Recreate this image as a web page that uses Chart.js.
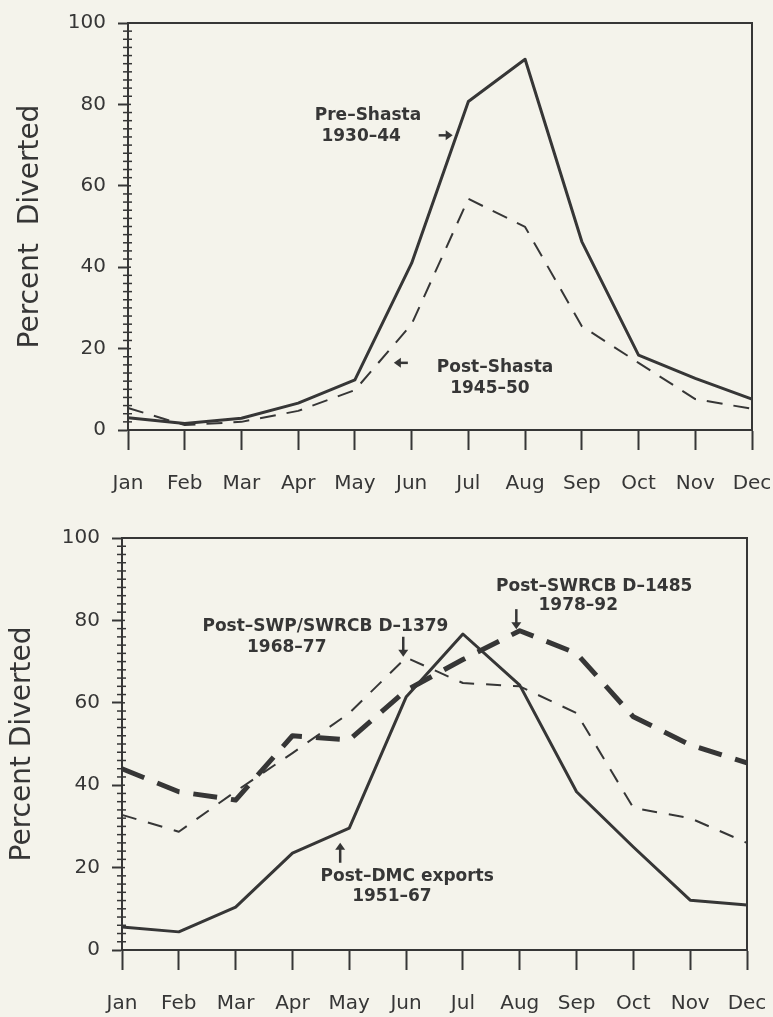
<!DOCTYPE html>
<html>
<head>
<meta charset="utf-8">
<script src="https://cdn.jsdelivr.net/npm/chart.js@4.4.1/dist/chart.umd.min.js"></script>
<style>
  body { margin: 0; background: #f4f3eb; }
  .panel { position: absolute; left: 0; width: 773px; }
  #panelTop { top: 0; height: 510px; }
  #panelBottom { top: 510px; height: 507px; }
</style>
</head>
<body>
<div class="panel" id="panelTop"><canvas id="chartTop" width="773" height="510"></canvas></div>
<div class="panel" id="panelBottom"><canvas id="chartBottom" width="773" height="507"></canvas></div>
<script>
// Data
const months = ['Jan', 'Feb', 'Mar', 'Apr', 'May', 'Jun', 'Jul', 'Aug', 'Sep', 'Oct', 'Nov', 'Dec'];
const yTicks = [0, 20, 40, 60, 80, 100];

// top panel
const preShasta  = [3.0, 1.6, 2.9, 6.6, 12.3, 41, 80.7, 91.1, 46.3, 18.4, 12.7, 7.6];
const postShasta = [5.4, 1.2, 2.0, 4.7, 9.8, 26, 56.8, 49.9, 25.5, 16.5, 7.6, 5.2];

// bottom panel
const postDMC    = [5.6, 4.4, 10.4, 23.5, 29.6, 61.4, 76.7, 64.3, 38.4, 25, 12.1, 10.9];
const postSWP    = [32.8, 28.7, 38.5, 47.8, 57.5, 71, 64.8, 64, 57.5, 34.5, 32, 26];
const postD1485  = [44, 38.4, 36.4, 52, 51, 63, 70.5, 77.5, 72, 56.6, 49.8, 45.4];

// labels placed in data units (month index, percent)
const topNotes = [
    { text: 'Pre\u2013Shasta', x: 4.23, y: 77.3 },
    { text: '1930\u201344', x: 4.11, y: 72.2 },
    { arrow: 'right', x: 5.6, y: 72.4 },
    { text: 'Post\u2013Shasta', x: 6.47, y: 15.3 },
    { text: '1945\u201350', x: 6.38, y: 10.3 },
    { arrow: 'left', x: 4.81, y: 16.5 }
];
const bottomNotes = [
    { text: 'Post\u2013SWP/SWRCB D\u20131379', x: 3.58, y: 78.4 },
    { text: '1968\u201377', x: 2.9, y: 73.5 },
    { arrow: 'down', x: 4.95, y: 73.6 },
    { text: 'Post\u2013SWRCB D\u20131485', x: 8.31, y: 88.3 },
    { text: '1978\u201392', x: 8.03, y: 83.5 },
    { arrow: 'down', x: 6.94, y: 80.3 },
    { text: 'Post\u2013DMC exports', x: 5.02, y: 17.7 },
    { text: '1951\u201367', x: 4.75, y: 12.9 },
    { arrow: 'up', x: 3.84, y: 23.6 }
];

const INK = '#363636';
Chart.defaults.font.family = '"DejaVu Sans", sans-serif';
Chart.defaults.color = INK;

function drawArrow(ctx, cx, cy, dir) {
    const len = (dir === 'up' || dir === 'down') ? 20 : 14;
    const dx = dir === 'right' ? 1 : dir === 'left' ? -1 : 0;
    const dy = dir === 'down' ? 1 : dir === 'up' ? -1 : 0;
    const tx = cx + dx * len / 2, ty = cy + dy * len / 2;
    ctx.lineWidth = 2.5;
    ctx.beginPath();
    ctx.moveTo(cx - dx * len / 2, cy - dy * len / 2);
    ctx.lineTo(tx - dx * 3, ty - dy * 3);
    ctx.stroke();
    // head
    const h = 7, w = 5;
    ctx.beginPath();
    ctx.moveTo(tx, ty);
    ctx.lineTo(tx - dx * h - dy * w, ty - dy * h - dx * w);
    ctx.lineTo(tx - dx * h + dy * w, ty - dy * h + dx * w);
    ctx.closePath();
    ctx.fill();
}

// box border, minor y ticks and text labels
function framePlugin(notes) {
    return {
        id: 'frame',
        afterDraw(chart) {
            const { ctx, chartArea: a, scales: { x, y } } = chart;
            ctx.save();
            ctx.strokeStyle = INK;
            ctx.lineWidth = 2;
            ctx.beginPath();
            ctx.moveTo(a.left, a.top);
            ctx.lineTo(a.right, a.top);
            ctx.lineTo(a.right, a.bottom);
            ctx.stroke();

            ctx.lineWidth = 1.5;
            for (let v = 0; v <= 100; v += 2) {
                const py = y.getPixelForValue(v);
                const major = v % 20 === 0;
                ctx.beginPath();
                ctx.moveTo(major ? a.left : a.left - 5, py);
                ctx.lineTo(a.left + (major ? 3 : 4), py);
                ctx.stroke();
            }

            ctx.fillStyle = INK;
            ctx.textAlign = 'center';
            ctx.textBaseline = 'middle';
            ctx.font = 'bold 17px "DejaVu Sans"';
            notes.forEach(n => {
                const px = x.getPixelForValue(n.x), py = y.getPixelForValue(n.y);
                if (n.arrow) drawArrow(ctx, px, py, n.arrow);
                else ctx.fillText(n.text, px, py);
            });
            ctx.restore();
        }
    };
}

function makeChart(id, box, datasets, notes, title, titlePad) {
    const canvas = document.getElementById(id);
    const W = canvas.width, H = canvas.height;
    return new Chart(canvas.getContext('2d'), {
        type: 'line',
        data: { labels: months, datasets: datasets },
        options: {
            responsive: false,
            animation: false,
            events: [],
            layout: { padding: { left: 0, top: box.top, right: W - box.right, bottom: 0 } },
            elements: { point: { radius: 0 }, line: { tension: 0, borderJoinStyle: 'round', fill: false } },
            plugins: { legend: { display: false }, tooltip: { enabled: false } },
            scales: {
                x: {
                    offset: false,
                    grid: { drawOnChartArea: false, tickLength: 20, tickWidth: 2, tickColor: INK },
                    border: { color: INK, width: 2 },
                    ticks: { color: INK, font: { size: 20 }, padding: 22, maxRotation: 0, autoSkip: false },
                    afterFit(s) {
                        s.height = H - box.bottom;
                        s.paddingLeft = 0;
                        s.paddingRight = 0;
                    }
                },
                y: {
                    min: 0,
                    max: 100,
                    afterBuildTicks(s) { s.ticks = yTicks.map(v => ({ value: v })); },
                    grid: { drawOnChartArea: false, tickLength: 10, tickWidth: 2, tickColor: INK },
                    border: { color: INK, width: 2 },
                    ticks: { color: INK, font: { size: 20 }, padding: 12 },
                    title: { display: true, text: title, color: INK, font: { size: 28 }, padding: { top: titlePad, bottom: 0 } },
                    afterFit(s) {
                        s.width = box.left;
                        s.paddingTop = 0;
                        s.paddingBottom = 0;
                    }
                }
            }
        },
        plugins: [framePlugin(notes)]
    });
}

makeChart('chartTop', { left: 128, right: 752, top: 23, bottom: 430 }, [
    { label: 'Pre-Shasta 1930-44', data: preShasta, borderColor: INK, borderWidth: 3 },
    { label: 'Post-Shasta 1945-50', data: postShasta, borderColor: INK, borderWidth: 2, borderDash: [16, 11] }
], topNotes, 'Percent  Diverted', 14);

makeChart('chartBottom', { left: 122, right: 747, top: 28, bottom: 440 }, [
    { label: 'Post-DMC exports 1951-67', data: postDMC, borderColor: INK, borderWidth: 3 },
    { label: 'Post-SWP/SWRCB D-1379 1968-77', data: postSWP, borderColor: INK, borderWidth: 2, borderDash: [15, 12] },
    { label: 'Post-SWRCB D-1485 1978-92', data: postD1485, borderColor: INK, borderWidth: 5, borderDash: [24, 14] }
], bottomNotes, 'Percent Diverted', 6);
</script>
</body>
</html>
